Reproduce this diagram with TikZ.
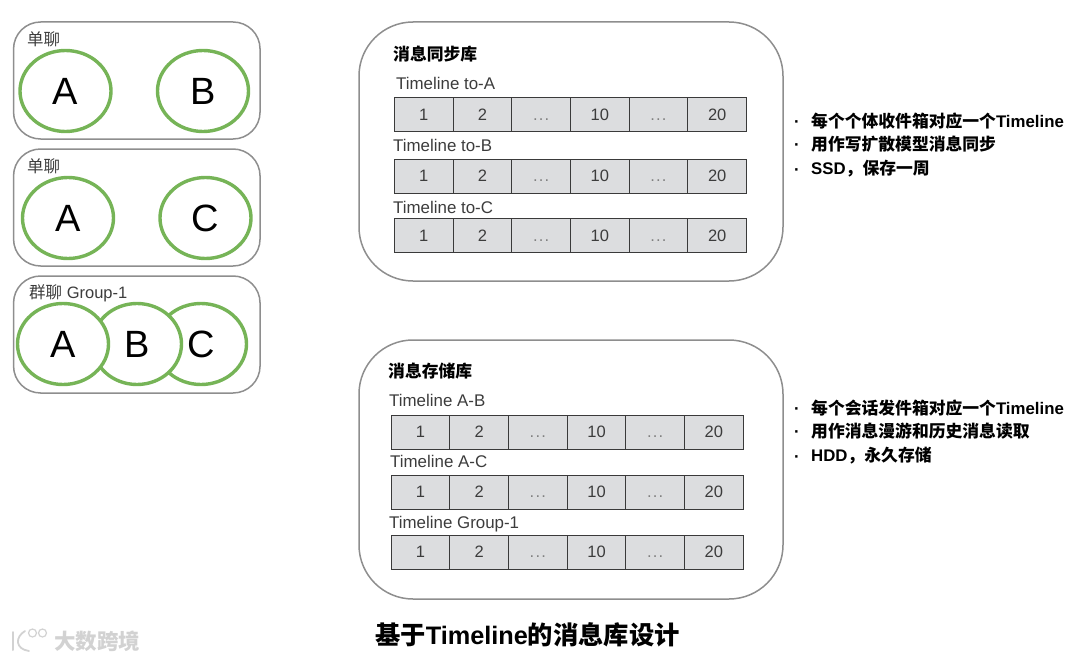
\documentclass[tikz,border=0pt]{standalone}
\usepackage{fontspec}
\setmainfont{Liberation Sans}
\newfontfamily\cjk{Noto Sans CJK SC}
\definecolor{chatGreen}{HTML}{76B457}
\definecolor{boxGray}{HTML}{8E8E8E}
\definecolor{cellGray}{HTML}{DCDDDF}
\definecolor{cellLine}{HTML}{3A3A3A}
\definecolor{textGray}{HTML}{3C3C3C}
\tikzset{
  chatbox/.style={draw=boxGray, line width=1.5pt, rounded corners=27pt, minimum width=246.5pt, minimum height=117pt, inner sep=0pt},
  storebox/.style={draw=boxGray, line width=1.5pt, rounded corners=54pt, minimum width=424pt, minimum height=259pt, inner sep=0pt},
  member/.style={draw=chatGreen, fill=white, ellipse, line width=3.4pt, minimum width=#1, minimum height=81pt, inner sep=0pt, font=\fontsize{38}{38}\selectfont, text=black},
  member/.default=91pt,
  chatlabel/.style={anchor=west, inner sep=0pt, font=\fontsize{16.5}{17}\selectfont, text=textGray},
  rowlabel/.style={anchor=west, inner sep=0pt, font=\fontsize{16.9}{17}\selectfont, text=textGray},
  storetitle/.style={anchor=west, inner sep=0pt, font=\cjk\bfseries\fontsize{16.8}{17}\selectfont, text=black},
  cell/.style={draw=cellLine, fill=cellGray, line width=0.8pt, minimum width=58.7pt, minimum height=34pt, inner sep=0pt, text height=11.5pt, text depth=0pt, font=\fontsize{16.5}{17}\selectfont, text=textGray},
  note/.style={anchor=west, inner sep=0pt, font=\bfseries\fontsize{16.8}{17}\selectfont, text=black},
  notedot/.style={inner sep=0pt, text height=13pt, text depth=0pt, font=\bfseries\fontsize{16.8}{17}\selectfont, text=black}
}
\usetikzlibrary{shapes.geometric}
\newcommand{\celldots}{\textcolor{gray}{.\hspace{1.2pt}.\hspace{1.2pt}.}}
% one timeline: six cells, #1 name, (#2,#3) centre of the first cell
\newcommand{\timelinerow}[3]{
  \foreach \i/\t in {0/1,1/2,2/\celldots,3/10,4/\celldots,5/20}
    \node[cell] (#1-\i) at ({#2+\i*58.7},#3) {\t};
}
\begin{document}
\begin{tikzpicture}[x=1pt,y=-1pt]
  \useasboundingbox (0,0) rectangle (1080,661);

  % left side, the three conversations
  \node[chatbox] (chatAB) at (136.8,80.5) {};
  \node[chatbox] (chatAC) at (136.8,207.5) {};
  \node[chatbox] (chatGroup) at (136.8,334.5) {};
  \node[chatlabel] (labelAB) at (27,39) {\cjk 单聊};
  \node[chatlabel] (labelAC) at (27,166) {\cjk 单聊};

  \node[member] (memA1) at (65.5,91) {A};
  \node[member] (memB1) at (203,91) {B};
  \node[member] (memA2) at (68,218) {A};
  \node[member] (memC2) at (205.5,218) {C};

  \node[member] (memC3) at (201,344) {C};
  \node[member=89pt] (memB3) at (137,344) {B};
  \node[member] (memA3) at (63,344) {A};
  \node[chatlabel] (labelGroup) at (29,293.5) {{\cjk 群聊} Group-1};

  % sync store
  \node[storebox] (syncStore) at (571,151.5) {};
  \node[storetitle] (syncTitle) at (393,54) {消息同步库};
  \node[rowlabel] (labelToA) at (396,83) {Timeline to-A};
  \timelinerow{toA}{423.7}{114.5}
  \node[rowlabel] (labelToB) at (393,145) {Timeline to-B};
  \timelinerow{toB}{423.7}{176}
  \node[rowlabel] (labelToC) at (393,207) {Timeline to-C};
  \timelinerow{toC}{423.7}{235.3}

  % storage store
  \node[storebox] (saveStore) at (571,469.5) {};
  \node[storetitle] (saveTitle) at (388,371) {消息存储库};
  \node[rowlabel] (labelAB2) at (389,400) {Timeline A-B};
  \timelinerow{rowAB}{420.4}{432}
  \node[rowlabel] (labelAC2) at (390,461) {Timeline A-C};
  \timelinerow{rowAC}{420.4}{492}
  \node[rowlabel] (labelGr2) at (389,524) {Timeline Group-1};
  \timelinerow{rowGr}{420.4}{552}

  % notes on the right
  \foreach \y in {121,144,169,408,431,456}
    \node[notedot] (dot\y) at (797,\y) {·};
  \node[note] (noteA1) at (811,121) {{\cjk 每个个体收件箱对应一个}Timeline};
  \node[note] (noteA2) at (811,144) {\cjk 用作写扩散模型消息同步};
  \node[note] (noteA3) at (811,169) {SSD{\cjk ，保存一周}};
  \node[note] (noteB1) at (811,408) {{\cjk 每个会话发件箱对应一个}Timeline};
  \node[note] (noteB2) at (811,431) {\cjk 用作消息漫游和历史消息读取};
  \node[note] (noteB3) at (811,456) {HDD{\cjk ，永久存储}};

  \node[anchor=west, inner sep=0pt, font=\bfseries\fontsize{25.3}{26}\selectfont] (mainTitle) at (375,635) {{\cjk 基于}Timeline{\cjk 的消息库设计}};

  % watermark
  \draw[gray!35, line width=2pt, line cap=round] (13,632) -- (13,650);
  \draw[gray!35, line width=1.8pt, line cap=round] (25,631) .. controls (15,637) and (15,649) .. (29,651);
  \draw[gray!35, line width=1.2pt] (32.5,633) circle[radius=4pt] (42.5,633) circle[radius=4pt];
  \node[anchor=west, inner sep=0pt, font=\cjk\bfseries\fontsize{21.5}{22}\selectfont, text=gray!35] (markText) at (54,641.5) {大数跨境};
\end{tikzpicture}
\end{document}
